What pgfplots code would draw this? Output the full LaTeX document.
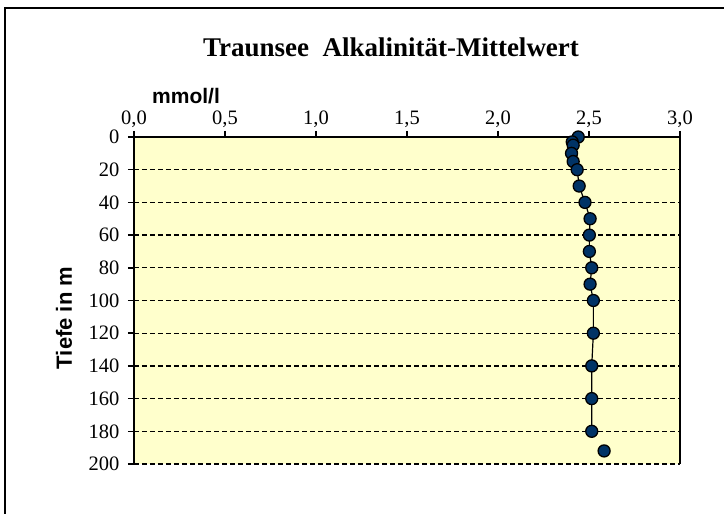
\documentclass[border=0pt]{standalone}
\usepackage{pgfplots}
\pgfplotsset{compat=1.18}
\usepackage{fontspec}
\setmainfont{Liberation Serif}
\newfontfamily\lsans{Liberation Sans}
\definecolor{bg}{RGB}{255,255,204}
\definecolor{mk}{RGB}{0,51,102}
\pgfplotstableread{
x y
2.441 0
2.408 3
2.413 5
2.404 10
2.413 15
2.435 20
2.446 30
2.478 40
2.506 50
2.502 60
2.502 70
2.515 80
2.506 90
2.524 100
2.524 120
2.515 140
2.515 160
2.515 180
}\dataline
\pgfplotstableread{
x y
2.583 192
}\datalast
\begin{document}
\begin{tikzpicture}[x=1pt,y=1pt]
\path[use as bounding box] (0,0) rectangle (724,514);
\draw[line width=1.5pt] (5,0) -- (5,506) -- (724,506);
\node[font=\fontsize{27}{27}\selectfont\bfseries] at (391,467) {Traunsee\ \ Alkalinität-Mittelwert};
\node[font=\fontsize{21}{21}\selectfont\lsans\bfseries] at (186,418) {mmol/l};
\node[font=\fontsize{22}{22}\selectfont\lsans\bfseries, rotate=90] at (64,196) {Tiefe in m};
\begin{axis}[at={(134pt,50pt)}, anchor=south west, scale only axis,
  width=546pt, height=327pt,
  xmin=0, xmax=3, ymin=0, ymax=200, y dir=reverse,
  axis x line=top, axis y line=left,
  axis line style={-, line width=1.8pt, black},
  axis background/.style={fill=bg},
  xtick={0,0.5,...,3}, ytick={0,20,...,200},
  tick align=outside, major tick length=6pt,
  tick style={line width=1.5pt, black},
  xticklabel style={/pgf/number format/.cd, use comma, fixed, fixed zerofill, precision=1},
  yticklabel style={xshift=-5pt},
  /pgf/number format/assume math mode=true,
  tick label style={font=\fontsize{20.5}{20.5}\selectfont},
  ymajorgrids, grid style={black, line width=1.3pt, dash pattern=on 5pt off 3pt},
  clip=false,
]
\addplot[black, line width=1.2pt, mark=*, mark size=6pt, mark options={fill=mk, draw=black, line width=1.3pt}] table[x=x,y=y] {\dataline};
\addplot[only marks, mark=*, mark size=6pt, mark options={fill=mk, draw=black, line width=1.3pt}] table[x=x,y=y] {\datalast};
\draw[line width=1.8pt, black] (rel axis cs:1,0) -- (rel axis cs:1,1);
\end{axis}
\end{tikzpicture}
\end{document}
